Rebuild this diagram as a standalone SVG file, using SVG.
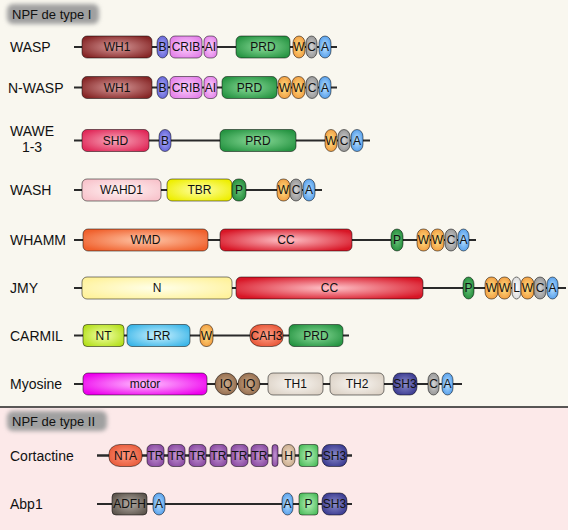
<svg xmlns="http://www.w3.org/2000/svg" width="568" height="530" viewBox="0 0 568 530">
<defs>
<style>
.bb{stroke:#2a2a2a;stroke-width:2;fill:none}
.bb2{stroke:#2a2a2a;stroke-width:2.5;fill:none}
.d{stroke:#000;stroke-opacity:.5;stroke-width:1}
text{font-family:"Liberation Sans",Arial,sans-serif;fill:#111}
.t{font-size:12px;text-anchor:middle}
.lbl{font-size:14px}
.ttl{font-size:13px}
.glow{fill:#a0a0a0;filter:url(#blur)}
.wh1{fill:url(#g-wh1)}.b{fill:url(#g-b)}.crib{fill:url(#g-crib)}.prd{fill:url(#g-prd)}
.w{fill:url(#g-w)}.c{fill:url(#g-c)}.a{fill:url(#g-a)}.shd{fill:url(#g-shd)}
.wahd{fill:url(#g-wahd)}.tbr{fill:url(#g-tbr)}.p{fill:url(#g-p)}.wmd{fill:url(#g-wmd)}
.cc{fill:url(#g-cc)}.n{fill:url(#g-n)}.nt{fill:url(#g-nt)}.lrr{fill:url(#g-lrr)}
.cah{fill:url(#g-cah)}.mot{fill:url(#g-mot)}.iq{fill:url(#g-iq)}.th{fill:url(#g-th)}
.sh3{fill:url(#g-sh3)}.l{fill:url(#g-l)}.nta{fill:url(#g-nta)}.tr{fill:url(#g-tr)}
.h{fill:url(#g-h)}.p2{fill:url(#g-p2)}.adfh{fill:url(#g-adfh)}
</style>
<filter id="blur" x="-20%" y="-40%" width="140%" height="180%"><feGaussianBlur stdDeviation="2"/></filter>
<radialGradient id="g-wh1" r=".6"><stop offset="0" stop-color="#d89c9c"/><stop offset="1" stop-color="#862626"/></radialGradient>
<radialGradient id="g-b" r=".6"><stop offset="0" stop-color="#b0b0fa"/><stop offset="1" stop-color="#5a5ad2"/></radialGradient>
<radialGradient id="g-crib" r=".6"><stop offset="0" stop-color="#fcd0fc"/><stop offset="1" stop-color="#e27ee8"/></radialGradient>
<radialGradient id="g-prd" r=".6"><stop offset="0" stop-color="#8cdc9a"/><stop offset="1" stop-color="#269442"/></radialGradient>
<radialGradient id="g-w" r=".6"><stop offset="0" stop-color="#ffe488"/><stop offset="1" stop-color="#f09438"/></radialGradient>
<radialGradient id="g-c" r=".6"><stop offset="0" stop-color="#d4d4d4"/><stop offset="1" stop-color="#8e8e8e"/></radialGradient>
<radialGradient id="g-a" r=".6"><stop offset="0" stop-color="#bce2ff"/><stop offset="1" stop-color="#4896e8"/></radialGradient>
<radialGradient id="g-shd" r=".6"><stop offset="0" stop-color="#f8a8bc"/><stop offset="1" stop-color="#e02858"/></radialGradient>
<radialGradient id="g-wahd" r=".6"><stop offset="0" stop-color="#fff4f4"/><stop offset="1" stop-color="#f8c4cc"/></radialGradient>
<radialGradient id="g-tbr" r=".6"><stop offset="0" stop-color="#ffffa8"/><stop offset="1" stop-color="#eeee00"/></radialGradient>
<radialGradient id="g-p" r=".6"><stop offset="0" stop-color="#6cc47a"/><stop offset="1" stop-color="#1e8836"/></radialGradient>
<radialGradient id="g-wmd" r=".6"><stop offset="0" stop-color="#ffc8aa"/><stop offset="1" stop-color="#f0602c"/></radialGradient>
<radialGradient id="g-cc" r=".6"><stop offset="0" stop-color="#ffc4ca"/><stop offset="1" stop-color="#d81626"/></radialGradient>
<radialGradient id="g-n" r=".6"><stop offset="0" stop-color="#ffffea"/><stop offset="1" stop-color="#fff29c"/></radialGradient>
<radialGradient id="g-nt" r=".6"><stop offset="0" stop-color="#f2ffa8"/><stop offset="1" stop-color="#b4e01c"/></radialGradient>
<radialGradient id="g-lrr" r=".6"><stop offset="0" stop-color="#ccf2ff"/><stop offset="1" stop-color="#3cb6e8"/></radialGradient>
<radialGradient id="g-cah" r=".6"><stop offset="0" stop-color="#ffa48c"/><stop offset="1" stop-color="#e64e2e"/></radialGradient>
<radialGradient id="g-mot" r=".6"><stop offset="0" stop-color="#ffc4ff"/><stop offset="1" stop-color="#ee00ee"/></radialGradient>
<radialGradient id="g-iq" r=".6"><stop offset="0" stop-color="#ccaa88"/><stop offset="1" stop-color="#8c6446"/></radialGradient>
<radialGradient id="g-th" r=".6"><stop offset="0" stop-color="#faf7f3"/><stop offset="1" stop-color="#dcd2c6"/></radialGradient>
<radialGradient id="g-sh3" r=".6"><stop offset="0" stop-color="#8c8cca"/><stop offset="1" stop-color="#34348c"/></radialGradient>
<radialGradient id="g-l" r=".6"><stop offset="0" stop-color="#ffffff"/><stop offset="1" stop-color="#d6d6d6"/></radialGradient>
<radialGradient id="g-nta" r=".6"><stop offset="0" stop-color="#ff967e"/><stop offset="1" stop-color="#e65634"/></radialGradient>
<radialGradient id="g-tr" r=".6"><stop offset="0" stop-color="#c496d4"/><stop offset="1" stop-color="#86469e"/></radialGradient>
<radialGradient id="g-h" r=".6"><stop offset="0" stop-color="#f2e0cc"/><stop offset="1" stop-color="#c6a686"/></radialGradient>
<radialGradient id="g-p2" r=".6"><stop offset="0" stop-color="#b8f2b8"/><stop offset="1" stop-color="#4cbc5c"/></radialGradient>
<radialGradient id="g-adfh" r=".6"><stop offset="0" stop-color="#b4aca4"/><stop offset="1" stop-color="#5c544c"/></radialGradient>
</defs>

<rect id="bg-type1" x="0" y="0" width="568" height="407" fill="#f9f7ef"/>
<rect id="bg-type2" x="0" y="407" width="568" height="123" fill="#fce9e9"/>
<line id="separator" x1="0" y1="407" x2="568" y2="407" stroke="#222" stroke-width="1.5"/>

<g id="title-type1"><rect class="glow" x="7" y="4" width="92" height="20" rx="6"/><text class="ttl" x="12" y="19">NPF de type I</text></g>
<g id="title-type2"><rect class="glow" x="7" y="411" width="100" height="20" rx="6"/><text class="ttl" x="12" y="426">NPF de type II</text></g>

<g id="connectors">
<line class="bb" x1="74" y1="47" x2="337" y2="47"/>
<line class="bb" x1="74" y1="87.5" x2="337" y2="87.5"/>
<line class="bb" x1="74" y1="140.5" x2="370" y2="140.5"/>
<line class="bb" x1="74" y1="190" x2="322" y2="190"/>
<line class="bb" x1="74" y1="240" x2="476" y2="240"/>
<line class="bb" x1="74" y1="288" x2="566" y2="288"/>
<line class="bb" x1="74" y1="335.5" x2="349" y2="335.5"/>
<line class="bb" x1="74" y1="384" x2="462" y2="384"/>
<line class="bb2" x1="97" y1="455.5" x2="352" y2="455.5"/>
<line class="bb" x1="97" y1="504" x2="352" y2="504"/>
</g>

<g id="labels">
<text class="lbl" x="10" y="52">WASP</text>
<text class="lbl" x="8" y="92.5">N-WASP</text>
<text class="lbl" x="32" y="136" text-anchor="middle">WAWE</text>
<text class="lbl" x="32" y="152" text-anchor="middle">1-3</text>
<text class="lbl" x="10" y="195">WASH</text>
<text class="lbl" x="10" y="245">WHAMM</text>
<text class="lbl" x="10" y="293">JMY</text>
<text class="lbl" x="10" y="340.5">CARMIL</text>
<text class="lbl" x="10" y="389">Myosine</text>
<text class="lbl" x="10" y="460.5">Cortactine</text>
<text class="lbl" x="10" y="509">Abp1</text>
</g>

<!-- WASP -->
<g id="wasp-wh1"><rect class="d wh1" x="82" y="36" width="70" height="22" rx="5"/><text class="t" x="117" y="51">WH1</text></g>
<g id="wasp-b"><rect class="d b" x="157" y="36" width="11" height="22" rx="5.5" ry="7"/><text class="t" x="162.5" y="51">B</text></g>
<g id="wasp-crib"><rect class="d crib" x="170" y="36" width="32" height="22" rx="5"/><text class="t" x="186" y="51">CRIB</text></g>
<g id="wasp-ai"><rect class="d crib" x="204" y="36" width="13" height="22" rx="5"/><text class="t" x="210.5" y="51">AI</text></g>
<g id="wasp-prd"><rect class="d prd" x="236" y="36" width="54" height="22" rx="5"/><text class="t" x="263" y="51">PRD</text></g>
<g id="wasp-w"><rect class="d w" x="293" y="36" width="12" height="22" rx="6" ry="7"/><text class="t" x="299" y="51">W</text></g>
<g id="wasp-c"><rect class="d c" x="306" y="36" width="11" height="22" rx="5.5" ry="7"/><text class="t" x="311.5" y="51">C</text></g>
<g id="wasp-a"><rect class="d a" x="319" y="36" width="12" height="22" rx="6" ry="7"/><text class="t" x="325" y="51">A</text></g>

<!-- N-WASP -->
<g id="nwasp-wh1"><rect class="d wh1" x="82" y="76.5" width="70" height="22" rx="5"/><text class="t" x="117" y="91.5">WH1</text></g>
<g id="nwasp-b"><rect class="d b" x="157" y="76.5" width="11" height="22" rx="5.5" ry="7"/><text class="t" x="162.5" y="91.5">B</text></g>
<g id="nwasp-crib"><rect class="d crib" x="170" y="76.5" width="32" height="22" rx="5"/><text class="t" x="186" y="91.5">CRIB</text></g>
<g id="nwasp-ai"><rect class="d crib" x="204" y="76.5" width="13" height="22" rx="5"/><text class="t" x="210.5" y="91.5">AI</text></g>
<g id="nwasp-prd"><rect class="d prd" x="222" y="76.5" width="55" height="22" rx="5"/><text class="t" x="249.5" y="91.5">PRD</text></g>
<g id="nwasp-w1"><rect class="d w" x="278" y="76.5" width="13" height="22" rx="6" ry="7"/><text class="t" x="284.5" y="91.5">W</text></g>
<g id="nwasp-w2"><rect class="d w" x="292" y="76.5" width="13" height="22" rx="6" ry="7"/><text class="t" x="298.5" y="91.5">W</text></g>
<g id="nwasp-c"><rect class="d c" x="306" y="76.5" width="12" height="22" rx="6" ry="7"/><text class="t" x="312" y="91.5">C</text></g>
<g id="nwasp-a"><rect class="d a" x="319" y="76.5" width="12" height="22" rx="6" ry="7"/><text class="t" x="325" y="91.5">A</text></g>

<!-- WAWE -->
<g id="wawe-shd"><rect class="d shd" x="82" y="129.5" width="67" height="22" rx="5"/><text class="t" x="115.5" y="144.5">SHD</text></g>
<g id="wawe-b"><rect class="d b" x="159" y="129.5" width="12" height="22" rx="6" ry="7"/><text class="t" x="165" y="144.5">B</text></g>
<g id="wawe-prd"><rect class="d prd" x="220" y="129.5" width="76" height="22" rx="5"/><text class="t" x="258" y="144.5">PRD</text></g>
<g id="wawe-w"><rect class="d w" x="325" y="129.5" width="12" height="22" rx="6" ry="7"/><text class="t" x="331" y="144.5">W</text></g>
<g id="wawe-c"><rect class="d c" x="338" y="129.5" width="12" height="22" rx="6" ry="7"/><text class="t" x="344" y="144.5">C</text></g>
<g id="wawe-a"><rect class="d a" x="351" y="129.5" width="12" height="22" rx="6" ry="7"/><text class="t" x="357" y="144.5">A</text></g>

<!-- WASH -->
<g id="wash-wahd1"><rect class="d wahd" x="82" y="179" width="79" height="22" rx="5"/><text class="t" x="121.5" y="194">WAHD1</text></g>
<g id="wash-tbr"><rect class="d tbr" x="167" y="179" width="65" height="22" rx="5"/><text class="t" x="199.5" y="194">TBR</text></g>
<g id="wash-p"><rect class="d p" x="232" y="179" width="14" height="22" rx="6" ry="7"/><text class="t" x="239" y="194">P</text></g>
<g id="wash-w"><rect class="d w" x="277" y="179" width="13" height="22" rx="6" ry="7"/><text class="t" x="283.5" y="194">W</text></g>
<g id="wash-c"><rect class="d c" x="290" y="179" width="12" height="22" rx="6" ry="7"/><text class="t" x="296" y="194">C</text></g>
<g id="wash-a"><rect class="d a" x="303" y="179" width="12" height="22" rx="6" ry="7"/><text class="t" x="309" y="194">A</text></g>

<!-- WHAMM -->
<g id="whamm-wmd"><rect class="d wmd" x="83" y="229" width="125" height="22" rx="5"/><text class="t" x="145.5" y="244">WMD</text></g>
<g id="whamm-cc"><rect class="d cc" x="220" y="229" width="132" height="22" rx="5"/><text class="t" x="286" y="244">CC</text></g>
<g id="whamm-p"><rect class="d p" x="391" y="229" width="12" height="22" rx="6" ry="7"/><text class="t" x="397" y="244">P</text></g>
<g id="whamm-w1"><rect class="d w" x="417" y="229" width="13" height="22" rx="6" ry="7"/><text class="t" x="423.5" y="244">W</text></g>
<g id="whamm-w2"><rect class="d w" x="431" y="229" width="13" height="22" rx="6" ry="7"/><text class="t" x="437.5" y="244">W</text></g>
<g id="whamm-c"><rect class="d c" x="445" y="229" width="12" height="22" rx="6" ry="7"/><text class="t" x="451" y="244">C</text></g>
<g id="whamm-a"><rect class="d a" x="458" y="229" width="11" height="22" rx="5.5" ry="7"/><text class="t" x="463.5" y="244">A</text></g>

<!-- JMY -->
<g id="jmy-n"><rect class="d n" x="82" y="277" width="150" height="22" rx="5"/><text class="t" x="157" y="292">N</text></g>
<g id="jmy-cc"><rect class="d cc" x="236" y="277" width="187" height="22" rx="5"/><text class="t" x="329.5" y="292">CC</text></g>
<g id="jmy-p"><rect class="d p" x="463" y="277" width="11" height="22" rx="5.5" ry="7"/><text class="t" x="468.5" y="292">P</text></g>
<g id="jmy-w1"><rect class="d w" x="485" y="277" width="13" height="22" rx="6" ry="7"/><text class="t" x="491.5" y="292">W</text></g>
<g id="jmy-w2"><rect class="d w" x="498" y="277" width="13" height="22" rx="6" ry="7"/><text class="t" x="504.5" y="292">W</text></g>
<g id="jmy-l"><rect class="d l" x="512" y="277" width="9" height="22" rx="4.5" ry="7"/><text class="t" x="516.5" y="292">L</text></g>
<g id="jmy-w3"><rect class="d w" x="521" y="277" width="13" height="22" rx="6" ry="7"/><text class="t" x="527.5" y="292">W</text></g>
<g id="jmy-c"><rect class="d c" x="534" y="277" width="12" height="22" rx="6" ry="7"/><text class="t" x="540" y="292">C</text></g>
<g id="jmy-a"><rect class="d a" x="547" y="277" width="11" height="22" rx="5.5" ry="7"/><text class="t" x="552.5" y="292">A</text></g>

<!-- CARMIL -->
<g id="carmil-nt"><rect class="d nt" x="83" y="324.5" width="41" height="22" rx="4"/><text class="t" x="103.5" y="339.5">NT</text></g>
<g id="carmil-lrr"><rect class="d lrr" x="127" y="324.5" width="63" height="22" rx="5"/><text class="t" x="158.5" y="339.5">LRR</text></g>
<g id="carmil-w"><rect class="d w" x="200" y="324.5" width="13" height="22" rx="6" ry="7"/><text class="t" x="206.5" y="339.5">W</text></g>
<g id="carmil-cah3"><rect class="d cah" x="250" y="324.5" width="33" height="22" rx="11" ry="9"/><text class="t" x="266.5" y="339.5">CAH3</text></g>
<g id="carmil-prd"><rect class="d prd" x="289" y="324.5" width="54" height="22" rx="5"/><text class="t" x="316" y="339.5">PRD</text></g>

<!-- Myosine -->
<g id="myo-motor"><rect class="d mot" x="83" y="373" width="124" height="22" rx="5"/><text class="t" x="145" y="388">motor</text></g>
<g id="myo-iq1"><circle class="d iq" cx="226" cy="384" r="11"/><text class="t" x="226" y="388">IQ</text></g>
<g id="myo-iq2"><circle class="d iq" cx="249" cy="384" r="11"/><text class="t" x="249" y="388">IQ</text></g>
<g id="myo-th1"><rect class="d th" x="268" y="373" width="55" height="22" rx="5"/><text class="t" x="295.5" y="388">TH1</text></g>
<g id="myo-th2"><rect class="d th" x="330" y="373" width="54" height="22" rx="5"/><text class="t" x="357" y="388">TH2</text></g>
<g id="myo-sh3"><rect class="d sh3" x="393" y="373" width="24" height="22" rx="7" ry="8"/><text class="t" x="405" y="388">SH3</text></g>
<g id="myo-c"><rect class="d c" x="428" y="373" width="11" height="22" rx="5.5" ry="7"/><text class="t" x="433.5" y="388">C</text></g>
<g id="myo-a"><rect class="d a" x="442" y="373" width="11" height="22" rx="5.5" ry="7"/><text class="t" x="447.5" y="388">A</text></g>

<!-- Cortactine -->
<g id="cort-nta"><rect class="d nta" x="109" y="444.5" width="33" height="22" rx="11" ry="9"/><text class="t" x="125.5" y="459.5">NTA</text></g>
<g id="cort-tr1"><rect class="d tr" x="147" y="444.5" width="17" height="22" rx="5"/><text class="t" x="155.5" y="459.5">TR</text></g>
<g id="cort-tr2"><rect class="d tr" x="168" y="444.5" width="17" height="22" rx="5"/><text class="t" x="176.5" y="459.5">TR</text></g>
<g id="cort-tr3"><rect class="d tr" x="189" y="444.5" width="17" height="22" rx="5"/><text class="t" x="197.5" y="459.5">TR</text></g>
<g id="cort-tr4"><rect class="d tr" x="210" y="444.5" width="17" height="22" rx="5"/><text class="t" x="218.5" y="459.5">TR</text></g>
<g id="cort-tr5"><rect class="d tr" x="231" y="444.5" width="17" height="22" rx="5"/><text class="t" x="239.5" y="459.5">TR</text></g>
<g id="cort-tr6"><rect class="d tr" x="251" y="444.5" width="17" height="22" rx="5"/><text class="t" x="259.5" y="459.5">TR</text></g>
<g id="cort-tr7"><rect class="d tr" x="272" y="444.5" width="6" height="22" rx="3"/></g>
<g id="cort-h"><rect class="d h" x="282" y="444.5" width="13" height="22" rx="6" ry="7"/><text class="t" x="288.5" y="459.5">H</text></g>
<g id="cort-p"><rect class="d p2" x="299" y="444.5" width="19" height="22" rx="3"/><text class="t" x="308.5" y="459.5">P</text></g>
<g id="cort-sh3"><rect class="d sh3" x="322" y="444.5" width="25" height="22" rx="7" ry="8"/><text class="t" x="334.5" y="459.5">SH3</text></g>

<!-- Abp1 -->
<g id="abp1-adfh"><rect class="d adfh" x="112" y="493" width="35" height="22" rx="4"/><text class="t" x="129.5" y="508">ADFH</text></g>
<g id="abp1-a1"><rect class="d a" x="153" y="493" width="12" height="22" rx="6" ry="7"/><text class="t" x="159" y="508">A</text></g>
<g id="abp1-a2"><rect class="d a" x="282" y="493" width="11" height="22" rx="5.5" ry="7"/><text class="t" x="287.5" y="508">A</text></g>
<g id="abp1-p"><rect class="d p2" x="299" y="493" width="19" height="22" rx="3"/><text class="t" x="308.5" y="508">P</text></g>
<g id="abp1-sh3"><rect class="d sh3" x="322" y="493" width="25" height="22" rx="7" ry="8"/><text class="t" x="334.5" y="508">SH3</text></g>
</svg>
